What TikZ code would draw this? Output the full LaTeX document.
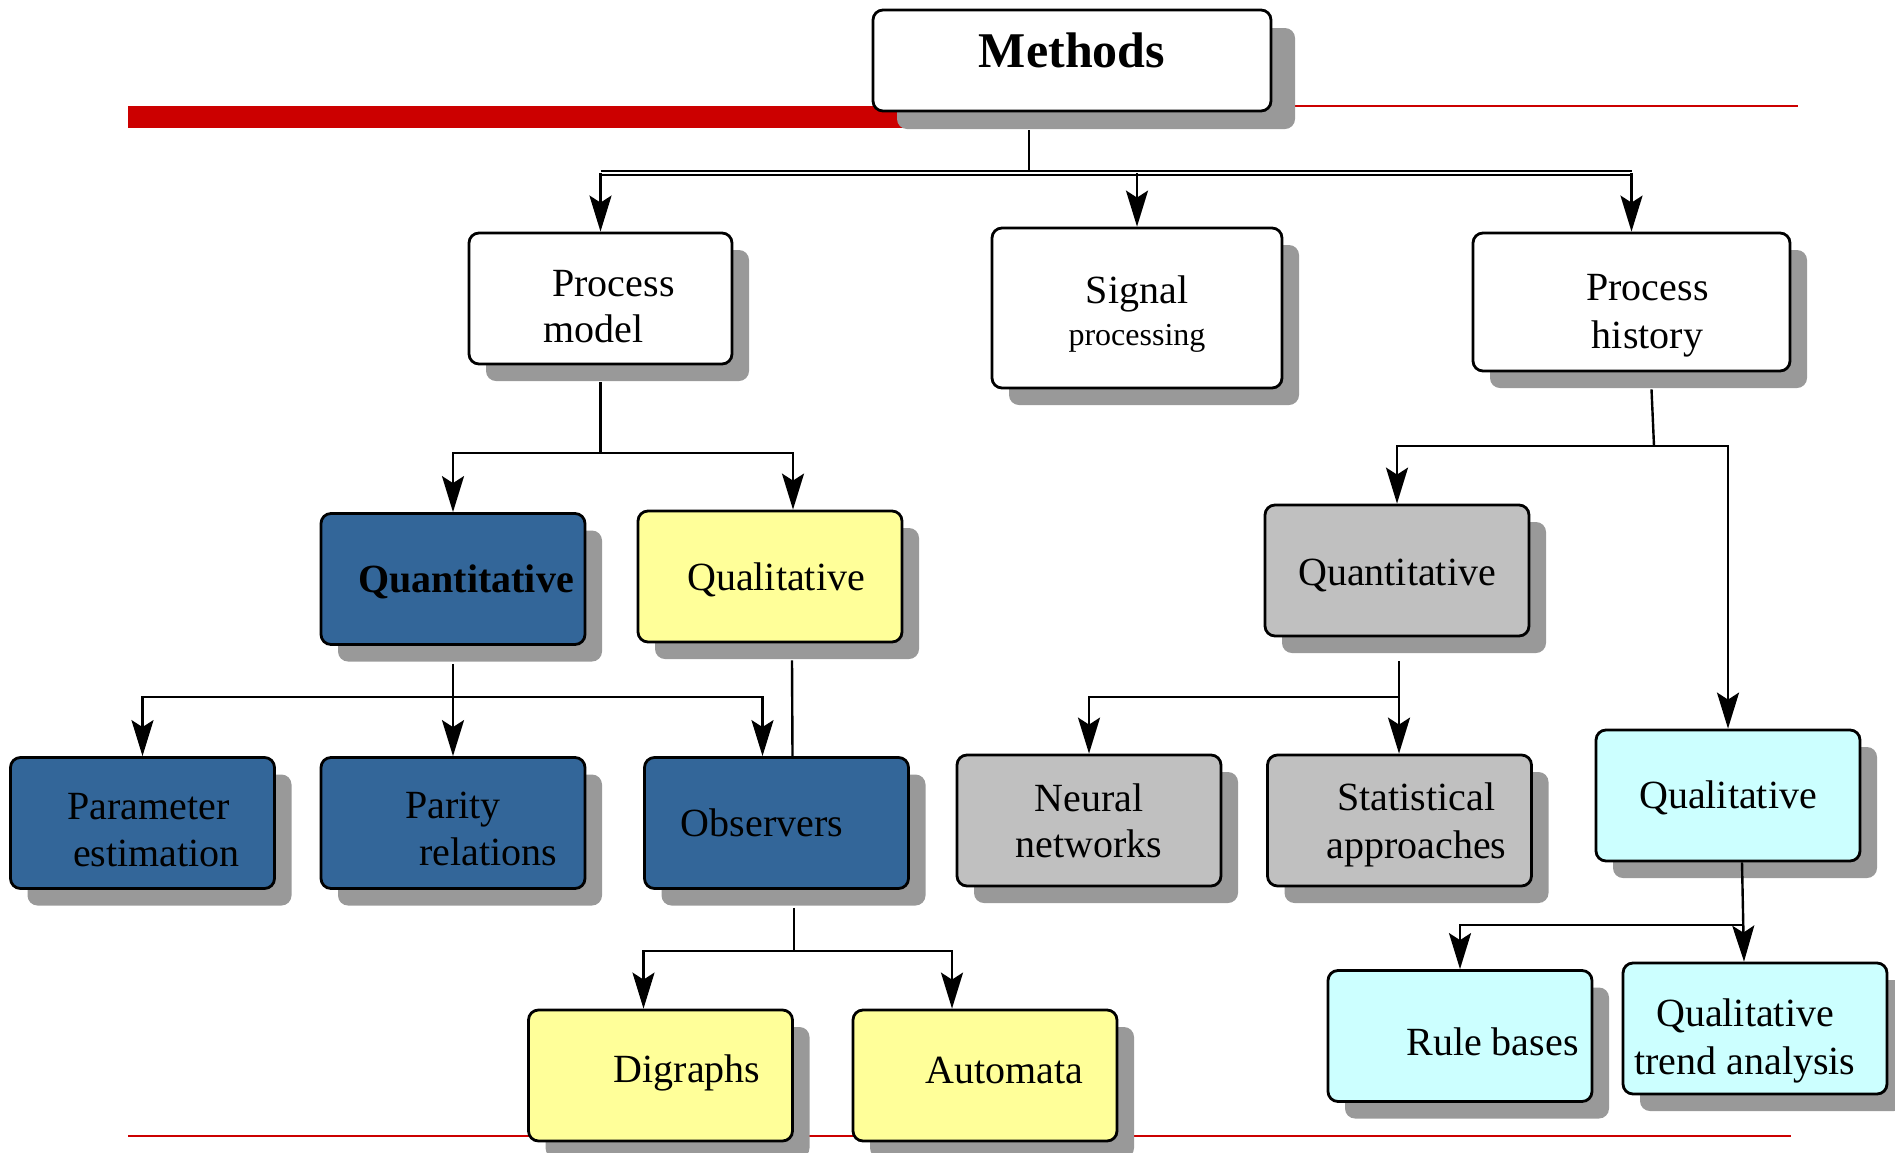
\documentclass[tikz,border=0pt]{standalone}
\usepackage{fontspec}
\setmainfont{Liberation Serif}
\usepackage{tikz}
\usetikzlibrary{shapes,arrows.meta,shadows}
\newcommand\boxsize{\fontsize{20}{23}\selectfont}
\newcommand\smallsize{\fontsize{16}{16}\selectfont}
% to move box text down or up
\newcommand\down[1]{\rule{0pt}{\dimexpr 13.5pt+#1*2\relax}}
\newcommand\up[1]{\rule[\dimexpr -#1*2\relax]{0pt}{0pt}}
\definecolor{boxblue}{RGB}{51,102,153}
\definecolor{boxyellow}{RGB}{255,255,153}
\definecolor{boxgrey}{RGB}{192,192,192}
\definecolor{boxcyan}{RGB}{204,255,255}
\definecolor{shadowgrey}{RGB}{153,153,153}
\definecolor{rulered}{RGB}{204,0,0}
\tikzset{
  plainbox/.style={draw, line width=1.4pt, rounded corners=5pt, minimum width=132pt,
    minimum height=65.5pt, inner sep=0pt, align=center, font=\boxsize},
  box/.style={plainbox, drop shadow={shadow xshift=8.5pt, shadow yshift=-8.5pt, fill=shadowgrey, opacity=1}},
  headbox/.style={plainbox, fill=white, drop shadow={shadow xshift=12pt, shadow yshift=-9pt, fill=shadowgrey, opacity=1}},
  whitebox/.style={box, fill=white},
  bluebox/.style={box, fill=boxblue},
  yellowbox/.style={box, fill=boxyellow},
  greybox/.style={box, fill=boxgrey},
  cyanbox/.style={box, fill=boxcyan},
  link/.style={line width=1.2pt},
  >={Stealth[length=18pt,width=11pt,inset=3.5pt]}
}

\begin{document}
\begin{tikzpicture}[x=0.5pt,y=-0.5pt]
\useasboundingbox (0,0) rectangle (1895,1152);

% to draw red rules
\fill[rulered] (128,106) rectangle (1000,128);
\draw[rulered, line width=1.2pt] (1100,106) -- (1798,106);
\draw[rulered, line width=1.2pt] (128,1136) -- (1791,1136);

% to write boxes
\node[headbox, minimum width=199pt, minimum height=50.5pt, font=\fontsize{25}{25}\selectfont\bfseries] (methods) at (1072,60.5) {\up{5pt}Methods};

\node[whitebox, minimum width=131.5pt] (pmodel) at (600.5,298.5) {\down{3.6pt}\hspace*{13pt}Process\\model\hspace*{7pt}};
\node[whitebox, minimum width=145pt, minimum height=80pt] (sigproc) at (1137,308) {\down{3pt}Signal\\[-2pt]{\smallsize processing}};
\node[whitebox, minimum width=158.5pt, minimum height=69pt] (phistory) at (1631.5,302) {\down{6.5pt}\hspace*{16pt}Process\\[1pt]\hspace*{16pt}history};

% Process model side
\node[bluebox] (quantb) at (453,579) {\down{1.8pt}\hspace*{13pt}\textbf{Quantitative}};
\node[yellowbox] (qualy) at (770,576.5) {\down{1.8pt}\hspace*{6pt}Qualitative};
\node[bluebox] (param) at (142.5,823) {\down{3.3pt}\hspace*{6pt}Parameter\\[0.5pt]\hspace*{14pt}estimation};
\node[bluebox] (parity) at (453,823) {\down{2.7pt}Parity\\[0.5pt]\hspace*{35pt}relations};
\node[bluebox] (observers) at (776.5,823) {Observers\hspace*{14.5pt}};
\node[yellowbox] (digraphs) at (660.5,1075.5) {\up{3.3pt}\hspace*{26.5pt}Digraphs};
\node[yellowbox] (automata) at (985,1075.5) {\up{2.4pt}\hspace*{19pt}Automata};

% Process history side
\node[greybox] (quantg) at (1397,570.5) {\down{2.4pt}Quantitative};
\node[greybox] (neural) at (1089,820.5) {Neural\\networks};
\node[greybox] (stat) at (1399.5,820.5) {\down{2.4pt}\hspace*{17pt}Statistical\\[1pt]\hspace*{17pt}approaches};
\node[cyanbox] (qualc) at (1728,795.5) {\down{1.2pt}Qualitative};
\node[cyanbox] (rules) at (1460,1036) {\down{3pt}\hspace*{32.5pt}Rule bases};
\node[cyanbox] (qta) at (1755,1028.5) {\down{6.3pt}Qualitative\hspace*{10pt}\\[1pt]trend analysis\hspace*{10pt}};

% to draw arrows from Methods
\coordinate (mbus) at (1029,173);
\draw[link] (methods.south -| mbus) ++(0,18) -- (mbus);
\draw[link, double, double distance=1pt] (pmodel.north |- mbus) -- (phistory.north |- mbus);
\draw[link,->] (pmodel.north |- mbus) -- (pmodel.north);
\draw[link,->] (sigproc.north |- mbus) -- (sigproc.north);
\draw[link,->] (phistory.north |- mbus) -- (phistory.north);

% to draw arrows from Process model
\coordinate (pmbus) at (600.5,453);
\draw[link] (pmodel.south) ++(0,17) -- (pmbus);
\draw[link,->] (pmbus) -| (quantb.north);
\draw[link,->] (pmbus) -| ([xshift=11.5pt]qualy.north);

\coordinate (qbbus) at (453,697);
\draw[link] (quantb.south) ++(0,18) -- (qbbus);
\draw[link,->] (qbbus) -| (param.north);
\draw[link,->] (qbbus) -- (parity.north);
\draw[link,->] (qbbus) -| ([xshift=-7pt]observers.north);
\draw[link] ([xshift=11pt]qualy.south) ++(0,17) -- ([xshift=8pt]observers.north);

\coordinate (obbus) at (794,951);
\draw[link] (observers.south -| obbus) ++(0,18) -- (obbus);
\draw[link,->] (obbus) -| ([xshift=-8.5pt]digraphs.north);
\draw[link,->] (obbus) -| ([xshift=-16.5pt]automata.north);

% to draw arrows from Process history
\coordinate (phbus) at (1654,446);
\draw[link] ([xshift=10pt]phistory.south) ++(0,17) -- (phbus);
\draw[link,->] (phbus) -| (quantg.north);
\draw[link,->] (phbus) -| (qualc.north);

\coordinate (qgbus) at (1399,697);
\draw[link] (quantg.south -| qgbus) ++(0,24) -- (qgbus);
\draw[link,->] (qgbus) -| (neural.north);
\draw[link,->] (qgbus) -- (stat.north -| qgbus);

\coordinate (qcbus) at (1743,925);
\draw[link,->] ([xshift=7pt]qualc.south) -- ([xshift=-5.5pt]qta.north);
\draw[link,->] (qcbus) -| (rules.north);
\end{tikzpicture}
\end{document}
